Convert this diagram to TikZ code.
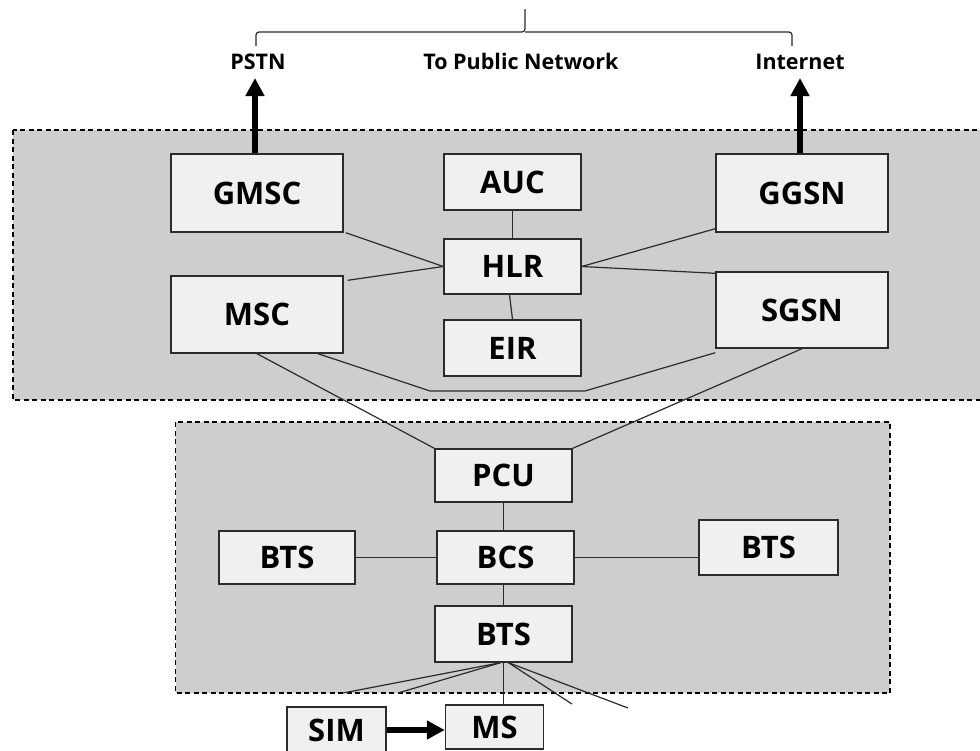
\documentclass[tikz,border=0pt]{standalone}
\usepackage{fontspec}
\setmainfont{Open Sans}
\usetikzlibrary{arrows.meta}
\definecolor{zonefill}{HTML}{CFCDCE}
\definecolor{boxfill}{HTML}{F0F0F0}
\definecolor{inkline}{HTML}{2B2B2B}
\tikzset{
  zone/.style={draw=black, fill=zonefill, line width=1.1pt, dash pattern=on 5pt off 3.5pt},
  unit/.style={draw=inkline, fill=boxfill, line width=1.4pt, inner sep=0pt,
               font=\fontsize{31}{36}\selectfont\bfseries},
  link/.style={draw=inkline, line width=1.2pt},
  uplink/.style={draw=black, line width=6pt, -{Triangle[width=18pt,length=18pt]}},
  simlink/.style={draw=black, line width=6pt, -{Triangle[width=18pt,length=18pt]}},
  netlabel/.style={font=\fontsize{21.5}{25}\selectfont\bfseries, inner sep=1pt},
}
\begin{document}
\begin{tikzpicture}[x=1pt, y=-1pt]
\useasboundingbox (0,0) rectangle (980,750);

% core network and radio subsystem zones
\path[zone] (13,130) rectangle (990,400);
\path[zone] (175.5,422) rectangle (890,693);

% core network elements
\node[unit, minimum width=172pt, minimum height=78pt] (GMSC) at (257,193) {GMSC};
\node[unit, minimum width=172pt, minimum height=77pt] (MSC)  at (257,314.5) {MSC};
\node[unit, minimum width=137pt, minimum height=56pt] (AUC)  at (512.5,182) {AUC};
\node[unit, minimum width=137pt, minimum height=55pt] (HLR)  at (512.5,266.5) {HLR};
\node[unit, minimum width=137pt, minimum height=56pt] (EIR)  at (512.5,348) {EIR};
\node[unit, minimum width=172pt, minimum height=78pt] (GGSN) at (802,193) {GGSN};
\node[unit, minimum width=172pt, minimum height=76pt] (SGSN) at (802,310) {SGSN};

% radio subsystem
\node[unit, minimum width=137pt, minimum height=53pt] (PCU)  at (503.5,475.5) {PCU};
\node[unit, minimum width=137pt, minimum height=53pt] (BCS)  at (505.5,557.5) {BCS};
\node[unit, minimum width=136pt, minimum height=53pt] (BTSL) at (287,557.5) {BTS};
\node[unit, minimum width=139pt, minimum height=55pt] (BTSR) at (768.5,547.5) {BTS};
\node[unit, minimum width=137pt, minimum height=56pt] (BTSB) at (503.5,634) {BTS};

% mobile station
\node[unit, minimum width=99pt, minimum height=46pt]  (SIM)  at (336.5,730) {SIM};
\node[unit, minimum width=98pt, minimum height=44pt]  (MS)   at (494.5,727) {MS};

% public network labels and brace
\node[netlabel] (PSTN) at (258,62) {PSTN};
\node[netlabel] (PUB)  at (521,61) {To Public Network};
\node[netlabel] (INET) at (800,62) {Internet};
\draw[inkline, line width=1.2pt, rounded corners=3pt] (256,46) -- (256,32) -- (525,32) -- (525,9);
\draw[inkline, line width=1.2pt, rounded corners=3pt] (525,32) -- (792,32) -- (792,46);

\coordinate (pstnTip) at (255,78);
\coordinate (inetTip) at (800,78);
\draw[uplink] (GMSC.north -| pstnTip) -- (pstnTip);
\draw[uplink] (GGSN.north -| inetTip) -- (inetTip);

% core links
\draw[link] ([xshift=2pt]GMSC.south east) -- (HLR.west);
\draw[link] ([xshift=4pt,yshift=-5pt]MSC.north east) -- (HLR.west);
\draw[link] ([yshift=4pt]GGSN.south west) -- (HLR.east);
\draw[link] (HLR.east) -- ([yshift=-2pt]SGSN.north west);
\draw[link] (AUC.south) -- (AUC.south |- HLR.north);
\draw[link] ([xshift=-3pt]HLR.south) -- (EIR.north);

\coordinate (bendL) at (430,391);
\coordinate (bendR) at (585,391);
\draw[link] ([xshift=61pt]MSC.south) -- (bendL) -- (bendR) -- ([yshift=-4pt]SGSN.south west);

% core to radio subsystem
\draw[link] (MSC.south) -- (PCU.north west);
\draw[link] (SGSN.south) -- (PCU.north east);

% radio links
\draw[link] (PCU.south) -- (PCU.south |- BCS.north);
\draw[link] (BTSL.east) -- (BCS.west);
\draw[link] (BCS.east) -- (BCS.east -| BTSR.west);
\draw[link] (BCS.south -| PCU.south) -- (PCU.south |- BTSB.north);

% air interface fan
\coordinate (apexL) at ([xshift=-3pt]BTSB.south);
\coordinate (apexR) at ([xshift=5pt]BTSB.south);
\coordinate (f1) at (343,693);
\coordinate (f2) at (398,693);
\coordinate (f3) at (572,704);
\coordinate (f4) at (628,708);
\draw[link] (apexL) -- (f1);
\draw[link] (apexL) -- (f2);
\draw[link] (apexR) -- (f3);
\draw[link] (apexR) -- (f4);
\draw[link] (BTSB.south) -- (BTSB.south |- MS.north);

\draw[simlink] (SIM.east) -- (SIM.east -| MS.west);
\end{tikzpicture}
\end{document}
